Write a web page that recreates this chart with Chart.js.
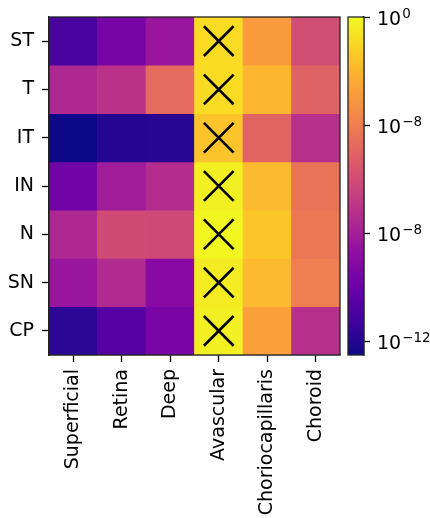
<!DOCTYPE html>
<html><head><meta charset="utf-8">
<script src="https://cdn.jsdelivr.net/npm/chart.js@4/dist/chart.umd.min.js"></script>
<style>
html,body{margin:0;padding:0;background:#fff;width:430px;height:518px;overflow:hidden}
#main{position:absolute;left:0;top:0}
#cbar{position:absolute;left:340px;top:0}
</style></head><body>
<canvas id="main" width="345" height="518"></canvas>
<canvas id="cbar" width="90" height="518"></canvas>
<script>
// ---- data ----
const rows = ['ST','T','IT','IN','N','SN','CP'];
const columns = ['Superficial','Retina','Deep','Avascular','Choriocapillaris','Choroid'];
const maskedColumn = 'Avascular';
const valuesST = [1e-11, 2.5e-10, 4e-9, 1.3e-1, 1.3e-3, 1e-6];
const valuesT  = [2.5e-8, 8e-8, 1.8e-5, 1.3e-1, 1e-2, 8e-6];
const valuesIT = [3.2e-13, 1.2e-12, 1.4e-12, 2.5e-2, 1e-5, 5.6e-8];
const valuesIN = [1.8e-10, 8e-9, 4e-8, 0.56, 1.3e-2, 4e-5];
const valuesN  = [2.5e-8, 8e-7, 7e-7, 0.8, 3.2e-2, 5.6e-5];
const valuesSN = [4e-9, 3.2e-8, 1e-9, 0.4, 1.3e-2, 1e-4];
const valuesCP = [1.8e-12, 2.5e-11, 3.2e-10, 0.56, 1.8e-3, 5.6e-8];
const colorbarRange = [-12.5, 0];           // log10 of vmin, vmax
const colorbarTicks = [0, -4, -8, -12];      // log10 tick positions
const colorbarTickBase = '10';
const colorbarTickExponents = ['0', '\u22128', '\u22128', '\u221212'];

// ---- colormap (plasma) ----
const plasma = ['#0d0887','#41049d','#6a00a8','#8f0da4','#b12a90','#cc4778','#e16462','#f2844b','#fca636','#fcce25','#f0f921'];
function hex(h){return [1,3,5].map(i=>parseInt(h.substr(i,2),16));}
function cmap(t){
  t=Math.max(0,Math.min(1,t));
  const s=t*10; const i=Math.min(9,Math.floor(s)); const f=s-i;
  const a=hex(plasma[i]), b=hex(plasma[i+1]);
  return 'rgb('+a.map((v,k)=>Math.round(v+(b[k]-v)*f)).join(',')+')';
}
function colorOf(v){return cmap((Math.log10(v)-colorbarRange[0])/(colorbarRange[1]-colorbarRange[0]));}

const values = [valuesST, valuesT, valuesIT, valuesIN, valuesN, valuesSN, valuesCP];
const FONT = {family:'DejaVu Sans', size:19};

const datasets = values.map((rowVals, r) => ({
  label: rows[r],
  data: columns.map(() => [r, r + 1]),
  backgroundColor: rowVals.map(colorOf),
  borderWidth: 0,
  barPercentage: 1, categoryPercentage: 1, grouped: false
}));
datasets.push({
  type: 'scatter', order: -1,
  data: rows.map((r, i) => ({x: maskedColumn, y: i + 0.5})),
  pointStyle: 'crossRot', radius: 21, hoverRadius: 21,
  borderColor: '#000', backgroundColor: '#000', borderWidth: 2.6
});

const frame = {id:'frame', afterDatasetsDraw(c){
  const a=c.chartArea, ctx=c.ctx; ctx.save(); ctx.strokeStyle='#222'; ctx.lineWidth=1.3;
  ctx.strokeRect(a.left,a.top,a.right-a.left,a.bottom-a.top); ctx.restore();
}};

new Chart(document.getElementById('main'), {
  type: 'bar',
  data: {labels: columns, datasets},
  options: {
    responsive: false, animation: false,
    layout: {autoPadding: false, padding: {top: 17, right: 5, left: 0, bottom: 0}},
    plugins: {legend: {display: false}, tooltip: {enabled: false}},
    scales: {
      x: {
        type: 'category', offset: true,
        grid: {offset: false, drawOnChartArea: false, drawTicks: true, tickLength: 7, tickWidth: 1.3, tickColor: '#000'},
        border: {display: true, color: '#222', width: 1.3},
        ticks: {minRotation: 90, maxRotation: 90, autoSkip: false, color: '#000', font: FONT, padding: 7},
        afterFit: s => { s.height = 163; s.paddingLeft = 0; s.paddingRight = 0; }
      },
      y: {
        type: 'linear', min: 0, max: rows.length, reverse: true,
        afterBuildTicks: s => { s.ticks = rows.map((r, i) => ({value: i + 0.5})); },
        grid: {drawOnChartArea: false, drawTicks: true, tickLength: 7, tickWidth: 1.3, tickColor: '#000'},
        border: {display: true, color: '#222', width: 1.3},
        ticks: {callback: v => rows[Math.floor(v)], color: '#000', font: FONT, padding: 8, autoSkip: false},
        afterFit: s => { s.width = 49; s.paddingTop = 0; s.paddingBottom = 0; }
      }
    }
  },
  plugins: [frame]
});

const cbarLabels = {id:'cbarLabels', afterDraw(c){
  const sc = c.scales.y, ctx = c.ctx, x0 = c.chartArea.right + 13;
  ctx.save(); ctx.fillStyle = '#000'; ctx.textAlign = 'left'; ctx.textBaseline = 'alphabetic';
  colorbarTicks.forEach((v, i) => {
    const y = sc.getPixelForValue(v);
    ctx.font = '19px "DejaVu Sans"';
    ctx.fillText(colorbarTickBase, x0, y + 7.5);
    const w = ctx.measureText(colorbarTickBase).width;
    ctx.font = '13.5px "DejaVu Sans"';
    ctx.fillText(colorbarTickExponents[i], x0 + w + 1, y + 0.5);
  });
  ctx.restore();
}};

new Chart(document.getElementById('cbar'), {
  type: 'bar',
  data: {labels: ['cb'], datasets: [{
    data: [[colorbarRange[0], colorbarRange[1]]],
    backgroundColor: ctx => {
      const a = ctx.chart.chartArea; if (!a) return plasma[5];
      const g = ctx.chart.ctx.createLinearGradient(0, a.bottom, 0, a.top);
      plasma.forEach((c, i) => g.addColorStop(i / 10, c));
      return g;
    },
    borderWidth: 0, barPercentage: 1, categoryPercentage: 1
  }]},
  options: {
    responsive: false, animation: false,
    layout: {autoPadding: false, padding: {left: 8, top: 17, bottom: 163, right: 0}},
    plugins: {legend: {display: false}, tooltip: {enabled: false}},
    scales: {
      x: {display: false},
      y: {
        position: 'right', min: colorbarRange[0], max: colorbarRange[1],
        afterBuildTicks: s => { s.ticks = colorbarTicks.map(v => ({value: v})); },
        grid: {drawOnChartArea: false, drawTicks: true, tickLength: 6, tickWidth: 1.3, tickColor: '#000'},
        border: {display: true, color: '#222', width: 1.3},
        ticks: {display: false},
        afterFit: s => { s.width = 66; s.paddingTop = 0; s.paddingBottom = 0; }
      }
    }
  },
  plugins: [frame, cbarLabels]
});
</script>
</body></html>
